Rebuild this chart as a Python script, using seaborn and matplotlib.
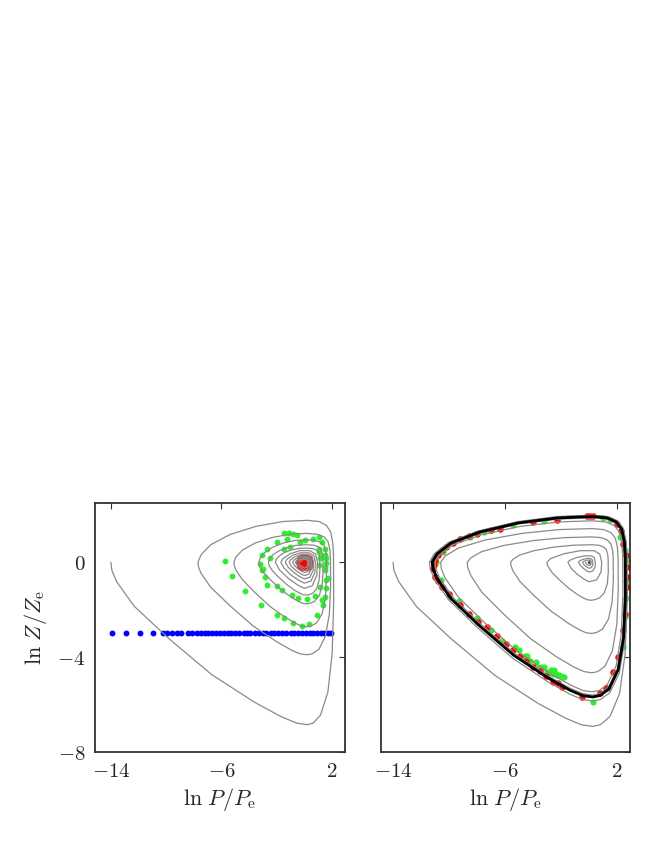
import numpy as np
import matplotlib
matplotlib.use("Agg")
import matplotlib.pyplot as plt
import seaborn as sns

# ------------------------------
# Data (ln P/Pe, ln Z/Ze)
# ------------------------------

# left panel: one gray trajectory spiralling into the stable point (0, 0), loop by loop
left_loops = [
    [(-14.0, 0.0), (-13.93, -0.34), (-13.58, -0.82), (-12.32, -1.85), (-9.8, -3.22), (-6.72, -4.73),
     (-3.64, -5.89), (-1.68, -6.51), (-0.56, -6.78), (0.21, -6.85), (0.64, -6.78), (1.17, -6.44),
     (1.7, -5.48), (2.01, -3.84), (2.12, -1.71), (2.11, 0.27), (2.06, 0.8), (1.91, 1.27),
     (1.59, 1.56), (1.06, 1.72), (0.21, 1.77), (-1.54, 1.72), (-3.47, 1.52), (-5.39, 1.17),
     (-6.78, 0.74), (-7.47, 0.32)],
    [(-7.7, 0.0), (-7.66, -0.2), (-7.47, -0.47), (-6.78, -1.05), (-5.39, -1.83), (-3.7, -2.69),
     (-2.0, -3.35), (-0.92, -3.71), (-0.31, -3.86), (0.19, -3.9), (0.57, -3.86), (1.05, -3.67),
     (1.52, -3.12), (1.81, -2.18), (1.9, -0.98), (1.89, 0.18), (1.84, 0.55), (1.71, 0.88),
     (1.43, 1.07), (0.95, 1.18), (0.19, 1.22), (-1.02, 1.18), (-2.3, 1.05), (-3.57, 0.81),
     (-4.49, 0.51), (-4.95, 0.22)],
    [(-5.1, 0.0), (-5.07, -0.14), (-4.95, -0.33), (-4.49, -0.73), (-3.57, -1.28), (-2.45, -1.88),
     (-1.33, -2.34), (-0.61, -2.58), (-0.2, -2.69), (0.16, -2.72), (0.48, -2.69), (0.88, -2.56),
     (1.28, -2.18), (1.52, -1.52), (1.6, -0.68), (1.59, 0.14), (1.55, 0.43), (1.44, 0.68),
     (1.2, 0.84), (0.8, 0.92), (0.16, 0.95), (-0.66, 0.92), (-1.49, 0.82), (-2.31, 0.63),
     (-2.9, 0.4), (-3.2, 0.17)],
    [(-3.3, 0.0), (-3.28, -0.09), (-3.2, -0.21), (-2.9, -0.47), (-2.31, -0.82), (-1.58, -1.21),
     (-0.86, -1.51), (-0.4, -1.66), (-0.13, -1.73), (0.14, -1.75), (0.41, -1.73), (0.74, -1.65),
     (1.08, -1.4), (1.28, -0.98), (1.35, -0.44), (1.34, 0.11), (1.31, 0.33), (1.22, 0.53),
     (1.01, 0.65), (0.68, 0.72), (0.14, 0.74), (-0.52, 0.72), (-1.17, 0.64), (-1.82, 0.49),
     (-2.29, 0.31), (-2.52, 0.13)],
    [(-2.6, 0.0), (-2.59, -0.07), (-2.52, -0.17), (-2.29, -0.37), (-1.82, -0.65), (-1.25, -0.95),
     (-0.68, -1.19), (-0.31, -1.31), (-0.1, -1.37), (0.11, -1.38), (0.34, -1.37), (0.62, -1.3),
     (0.9, -1.1), (1.06, -0.77), (1.12, -0.35), (1.11, 0.09), (1.09, 0.27), (1.01, 0.43),
     (0.84, 0.53), (0.56, 0.58), (0.11, 0.6), (-0.42, 0.58), (-0.95, 0.52), (-1.47, 0.4),
     (-1.85, 0.25), (-2.04, 0.11)],
    [(-2.1, 0.0), (-1.79, -0.33), (-1.16, -0.68), (-0.46, -0.97), (0.0, -1.1), (0.57, -0.99),
     (0.9, -0.55), (0.95, 0.0), (0.81, 0.35), (0.38, 0.49), (-0.34, 0.49), (-1.02, 0.36), (-1.56, 0.15)],
    [(-1.7, 0.0), (-1.45, -0.26), (-0.94, -0.55), (-0.37, -0.77), (0.0, -0.88), (0.48, -0.79),
     (0.76, -0.44), (0.8, 0.0), (0.68, 0.29), (0.32, 0.4), (-0.28, 0.4), (-0.83, 0.3), (-1.27, 0.12)],
    [(-1.38, 0.0), (-1.17, -0.21), (-0.76, -0.43), (-0.3, -0.62), (0.0, -0.7), (0.4, -0.63),
     (0.63, -0.35), (0.66, 0.0), (0.56, 0.24), (0.26, 0.33), (-0.22, 0.33), (-0.66, 0.24), (-1.01, 0.1)],
    [(-1.1, 0.0), (-0.94, -0.17), (-0.61, -0.35), (-0.24, -0.49), (0.0, -0.56), (0.32, -0.5),
     (0.51, -0.28), (0.54, 0.0), (0.46, 0.19), (0.22, 0.26), (-0.17, 0.26), (-0.51, 0.19), (-0.78, 0.08)],
    [(-0.85, 0.0), (-0.72, -0.13), (-0.47, -0.27), (-0.19, -0.38), (0.0, -0.43), (0.26, -0.39),
     (0.41, -0.22), (0.43, 0.0), (0.37, 0.15), (0.17, 0.2), (-0.13, 0.2), (-0.39, 0.15), (-0.6, 0.06)],
    [(-0.65, 0.0), (-0.55, -0.1), (-0.36, -0.2), (-0.14, -0.29), (0.0, -0.33), (0.2, -0.3),
     (0.31, -0.17), (0.33, 0.0), (0.28, 0.11), (0.13, 0.16), (-0.1, 0.16), (-0.29, 0.12), (-0.44, 0.05)],
    [(-0.48, 0.0), (-0.41, -0.07), (-0.26, -0.15), (-0.11, -0.21), (0.0, -0.24), (0.14, -0.22),
     (0.23, -0.12), (0.24, 0.0), (0.2, 0.08), (0.1, 0.12), (-0.06, 0.12), (-0.18, 0.09), (-0.28, 0.04),
     (-0.3, 0.0)],
]

# right panel: gray trajectory coming in from outside the limit cycle
right_outer_loops = [
    [(-14.0, 0.0), (-13.93, -0.35), (-13.58, -0.83), (-12.32, -1.87), (-9.8, -3.25), (-6.72, -4.77),
     (-3.64, -5.95), (-1.68, -6.57), (-0.56, -6.85), (0.27, -6.92), (0.82, -6.85), (1.5, -6.5),
     (2.18, -5.54), (2.58, -3.88), (2.72, -1.73), (2.71, 0.3), (2.64, 0.9), (2.45, 1.43),
     (2.04, 1.75), (1.36, 1.93), (0.27, 1.99), (-2.28, 1.93), (-5.13, 1.71), (-7.98, 1.31),
     (-10.03, 0.84), (-11.06, 0.36)],
    [(-11.4, 0.0), (-11.34, -0.29), (-11.06, -0.7), (-10.03, -1.58), (-7.98, -2.75), (-5.47, -4.04),
     (-2.96, -5.03), (-1.37, -5.56), (-0.46, -5.79), (0.27, -5.85), (0.81, -5.79), (1.49, -5.5),
     (2.16, -4.68), (2.57, -3.28), (2.7, -1.46), (2.69, 0.3), (2.62, 0.89), (2.43, 1.42),
     (2.03, 1.73), (1.35, 1.91), (0.27, 1.97), (-2.26, 1.91), (-5.09, 1.69), (-7.91, 1.3),
     (-9.94, 0.83), (-10.96, 0.35), (-11.3, 0.0)],
]

# right panel: gray trajectory spiralling out of the unstable point (0, 0)
right_inner_loops = [
    [(-0.25, 0.0), (-0.21, -0.04), (-0.14, -0.09), (-0.06, -0.12), (0.0, -0.14), (0.09, -0.13),
     (0.14, -0.07), (0.15, 0.0), (0.13, 0.06), (0.06, 0.09), (-0.09, 0.09), (-0.27, 0.06), (-0.41, 0.03)],
    [(-0.45, 0.0), (-0.38, -0.08), (-0.25, -0.16), (-0.1, -0.22), (0.0, -0.25), (0.16, -0.23),
     (0.26, -0.13), (0.27, 0.0), (0.23, 0.11), (0.11, 0.16), (-0.15, 0.16), (-0.45, 0.12), (-0.69, 0.05)],
    [(-0.75, 0.0), (-0.64, -0.12), (-0.41, -0.25), (-0.17, -0.36), (0.0, -0.41), (0.27, -0.37),
     (0.43, -0.21), (0.45, 0.0), (0.38, 0.2), (0.18, 0.27), (-0.3, 0.27), (-0.9, 0.2), (-1.38, 0.08)],
    [(-1.5, 0.0), (-1.28, -0.25), (-0.83, -0.51), (-0.33, -0.72), (0.0, -0.82), (0.55, -0.74),
     (0.86, -0.41), (0.91, 0.0), (0.77, 0.35), (0.36, 0.49), (-0.6, 0.49), (-1.8, 0.36), (-2.76, 0.15)],
    [(-3.0, 0.0), (-2.99, -0.08), (-2.91, -0.19), (-2.64, -0.43), (-2.1, -0.75), (-1.44, -1.1),
     (-0.78, -1.38), (-0.36, -1.52), (-0.12, -1.58), (0.14, -1.6), (0.41, -1.58), (0.76, -1.5),
     (1.1, -1.28), (1.31, -0.9), (1.38, -0.4), (1.37, 0.11), (1.34, 0.33), (1.24, 0.53),
     (1.04, 0.65), (0.69, 0.72), (0.14, 0.74), (-1.12, 0.72), (-2.52, 0.64), (-3.92, 0.49),
     (-4.93, 0.31), (-5.43, 0.13)],
    [(-5.6, 0.0), (-5.57, -0.15), (-5.43, -0.36), (-4.93, -0.81), (-3.92, -1.41), (-2.69, -2.07),
     (-1.46, -2.58), (-0.67, -2.85), (-0.22, -2.97), (0.17, -3.0), (0.52, -2.97), (0.96, -2.82),
     (1.39, -2.4), (1.65, -1.68), (1.74, -0.75), (1.73, 0.16), (1.69, 0.48), (1.57, 0.77),
     (1.31, 0.94), (0.87, 1.04), (0.17, 1.07), (-1.74, 1.04), (-3.92, 0.92), (-6.09, 0.71),
     (-7.66, 0.45), (-8.44, 0.19)],
    [(-8.7, 0.0), (-8.66, -0.23), (-8.44, -0.56), (-7.66, -1.26), (-6.09, -2.19), (-4.18, -3.22),
     (-2.26, -4.01), (-1.04, -4.43), (-0.35, -4.61), (0.21, -4.66), (0.63, -4.61), (1.15, -4.38),
     (1.67, -3.73), (1.99, -2.61), (2.09, -1.17), (2.08, 0.21), (2.03, 0.64), (1.88, 1.02),
     (1.57, 1.25), (1.05, 1.38), (0.21, 1.42), (-2.12, 1.38), (-4.77, 1.22), (-7.42, 0.94),
     (-9.33, 0.6), (-10.28, 0.26)],
    [(-10.6, 0.0), (-10.55, -0.27), (-10.28, -0.66), (-9.33, -1.47), (-7.42, -2.57), (-5.09, -3.77),
     (-2.76, -4.7), (-1.27, -5.19), (-0.42, -5.41), (0.24, -5.46), (0.73, -5.41), (1.33, -5.13),
     (1.94, -4.37), (2.3, -3.06), (2.42, -1.37), (2.41, 0.26), (2.35, 0.79), (2.18, 1.26),
     (1.82, 1.54), (1.21, 1.7), (0.24, 1.75), (-2.2, 1.7), (-4.95, 1.51), (-7.7, 1.16),
     (-9.68, 0.74), (-10.67, 0.32)],
    [(-11.0, 0.0), (-10.95, -0.28), (-10.67, -0.67), (-9.68, -1.51), (-7.7, -2.63), (-5.28, -3.86),
     (-2.86, -4.82), (-1.32, -5.32), (-0.44, -5.54), (0.26, -5.6), (0.77, -5.54), (1.4, -5.26),
     (2.04, -4.48), (2.42, -3.14), (2.55, -1.4), (2.54, 0.28), (2.47, 0.85), (2.3, 1.35),
     (1.91, 1.65), (1.28, 1.82), (0.26, 1.88), (-2.22, 1.82), (-5.0, 1.62), (-7.77, 1.24),
     (-9.77, 0.79), (-10.77, 0.34), (-11.1, 0.0)],
]

# right panel: limit cycle (black)
limit_cycle = [
    (-11.2, 0.0), (-11.14, -0.28), (-10.86, -0.68), (-9.86, -1.53), (-7.84, -2.67), (-5.38, -3.92),
    (-2.91, -4.88), (-1.34, -5.4), (-0.45, -5.62), (0.26, -5.68), (0.78, -5.62), (1.43, -5.34),
    (2.08, -4.54), (2.47, -3.18), (2.6, -1.42), (2.59, 0.29), (2.52, 0.87), (2.34, 1.39),
    (1.95, 1.7), (1.3, 1.87), (0.26, 1.93), (-2.24, 1.87), (-5.04, 1.66), (-7.84, 1.27),
    (-9.86, 0.81), (-10.86, 0.35), (-11.2, 0.0),
]

# left panel markers
blue_x = [-13.9, -12.9, -11.9, -10.95, -10.2, -9.95, -9.6, -9.25, -8.9, -8.4, -8.1, -7.8, -7.5,
          -7.2, -6.95, -6.7, -6.4, -6.1, -5.8, -5.5, -5.3, -5.0, -4.7, -4.4, -4.15, -3.9, -3.6,
          -3.3, -3.0, -2.75, -2.45, -2.2, -1.9, -1.6, -1.3, -1.0, -0.75, -0.45, -0.2, 0.1, 0.4,
          0.65, 0.9, 1.2, 1.45, 1.7, 1.95]
blue_y = [-3.0] * len(blue_x)

green_left = [
    (-5.74, 0.04), (-5.25, -0.56), (-4.29, -1.21), (-3.15, -1.79), (-2.0, -2.23), (-1.5, -2.37),
    (-0.79, -2.55), (-0.18, -2.69), (0.3, -2.6), (0.9, -2.23), (1.38, -1.81), (1.5, -1.46),
    (1.6, -1.1), (1.74, -0.68), (1.5, -0.34), (1.6, -0.05), (1.27, 0.22), (1.03, 0.43),
    (-2.72, -0.97), (-2.0, -1.0), (-1.63, -1.18), (-0.9, -1.39), (-0.43, -1.52), (0.18, -1.56),
    (0.78, -1.43), (1.14, -1.04), (-3.2, -0.06), (-3.08, -0.34), (-2.84, -0.62),
    (-3.08, 0.29), (-2.72, 0.58), (-2.0, 0.85), (-1.27, 1.0), (-0.55, 1.14), (0.06, 0.93),
    (1.03, 1.07), (1.27, 0.85), (1.5, 0.58), (1.6, 0.16), (1.5, -0.2),
    (-2.48, 0.16), (-1.51, 0.58), (-1.03, 0.65), (-0.33, 0.85), (1.03, 0.58), (1.14, 0.16),
    (1.03, -0.13), (-2.96, -0.27), (-1.5, 1.22), (-1.1, 1.22), (-0.8, 1.2), (0.6, 1.0),
    (1.5, 0.3), (1.55, -0.75), (1.25, -1.6),
]

red_left = [
    (0.0, 0.0), (0.17, 0.09), (-0.17, 0.09), (0.17, -0.09), (-0.17, -0.09), (0.0, 0.17), (0.0, -0.17),
    (0.34, 0.0), (-0.34, 0.0), (0.24, 0.14), (-0.24, 0.14), (0.24, -0.14), (-0.24, -0.14),
]

# right panel markers on the limit cycle
red_right = [
    (-0.14, 1.94), (0.3, 1.94), (0.1, 1.95), (-2.3, 1.8), (-4.0, 1.69), (-6.36, 1.42), (-7.0, 1.35),
    (-8.0, 1.2), (-8.6, 1.1), (-9.2, 0.98), (-9.7, 0.82), (-10.2, 0.65), (-10.5, 0.5), (-10.8, 0.3),
    (-11.0, 0.1), (-11.1, -0.13), (-11.15, -0.3), (-11.0, -0.62), (-10.8, -0.8), (-10.5, -1.04),
    (-10.0, -1.35), (-9.2, -1.81), (-8.6, -2.2), (-7.9, -2.5), (-7.3, -2.72), (-6.6, -3.1),
    (-5.9, -3.45), (-5.4, -3.7), (-4.9, -3.95), (-4.5, -4.15), (-3.98, -4.4), (-3.5, -4.6),
    (-3.1, -4.8), (-2.55, -5.04), (-2.2, -5.1), (-1.9, -5.25), (-0.52, -5.7), (0.79, -5.53),
    (1.2, -5.3), (1.74, -4.62), (2.1, -4.0), (2.45, -2.86), (2.55, -2.2), (2.7, -1.04),
    (2.68, -0.6), (2.7, -0.2), (2.62, 0.3), (2.45, 0.79), (2.0, 1.63), (2.3, 1.3),
]

green_right = [
    (1.02, 1.88), (1.5, 1.8), (-3.2, 1.75), (-5.4, 1.56), (-7.5, 1.28), (-8.5, 1.07), (-10.4, 0.43),
    (-10.9, 0.0), (-10.6, -0.75), (-9.93, -1.46), (-9.3, -1.65), (-8.0, -2.37), (-7.0, -2.85),
    (-6.2, -3.3), (-5.3, -3.57), (-5.0, -3.7), (-4.6, -3.95), (-4.4, -3.95), (-4.2, -4.15),
    (-3.8, -4.2), (-3.6, -4.45), (-3.4, -4.4), (-3.2, -4.4), (-3.02, -4.62), (-2.8, -4.65),
    (-2.7, -4.55), (-2.6, -4.7), (-2.5, -4.55), (-2.4, -4.65), (-2.3, -4.76), (-2.15, -4.75),
    (-2.0, -4.8), (-1.8, -4.85), (0.31, -5.88), (1.38, -5.32), (2.45, -3.57), (2.57, -2.3),
    (2.65, -1.5), (2.62, -0.8), (2.7, 0.08), (2.55, 0.5), (2.2, 1.08),
]

x_ticks = [-14, -6, 2]
x_ticklabels = [r'$-14$', r'$-6$', r'$2$']
y_ticks = [0, -4, -8]
y_ticklabels = [r'$0$', r'$-4$', r'$-8$']

# ------------------------------
# Styling
# ------------------------------
sns.set_style("white")
plt.rcParams['mathtext.fontset'] = 'cm'
plt.rcParams['font.family'] = ['DejaVu Serif']

gray = '#8a8a8a'
blue = '#0000ff'
green = '#2cf02c'
red = '#ff0000'


def draw_path(ax, loops, color, lw):
    pts = np.array([p for loop in loops for p in loop])
    sns.lineplot(x=pts[:, 0], y=pts[:, 1], sort=False, estimator=None,
                 color=color, linewidth=lw, legend=False, ax=ax)


def draw_dots(ax, xs, ys, color, size):
    sns.scatterplot(x=xs, y=ys, color=color, s=size, linewidth=0, legend=False, ax=ax)


def style_axes(ax, xlim, show_ylabels):
    ax.set_xlim(*xlim)
    ax.set_ylim(-8, 2.5)
    ax.set_xticks(x_ticks)
    ax.set_xticklabels(x_ticklabels)
    ax.set_yticks(y_ticks)
    ax.set_yticklabels(y_ticklabels if show_ylabels else [])
    ax.tick_params(direction='in', top=True, right=True, length=4, width=0.8,
                   labelsize=15, pad=7, color='#333333')
    for sp in ax.spines.values():
        sp.set_color('#333333')
        sp.set_linewidth(1.3)
    ax.set_xlabel(r'$\ln\,P/P_{\rm e}$', fontsize=16, labelpad=4)


fig = plt.figure(figsize=(6.54, 8.46), dpi=100)
ax1 = fig.add_axes([95 / 654, 94 / 846, 250 / 654, 249 / 846])
ax2 = fig.add_axes([381 / 654, 94 / 846, 249 / 654, 249 / 846])

# left panel
draw_path(ax1, left_loops, gray, 0.9)
draw_dots(ax1, blue_x, blue_y, blue, 18)
draw_dots(ax1, [p[0] for p in green_left], [p[1] for p in green_left], green, 18)
draw_dots(ax1, [p[0] for p in red_left], [p[1] for p in red_left], red, 40)
style_axes(ax1, (-15.15, 2.94), True)
ax1.set_ylabel(r'$\ln\,Z/Z_{\rm e}$', fontsize=16, labelpad=6)

# right panel
draw_path(ax2, right_outer_loops, gray, 0.9)
draw_path(ax2, right_inner_loops, gray, 0.9)
draw_path(ax2, [limit_cycle], 'black', 2.0)
draw_dots(ax2, [0.0], [0.0], '#555555', 6)
draw_dots(ax2, [p[0] for p in green_right], [p[1] for p in green_right], green, 20)
draw_dots(ax2, [p[0] for p in red_right], [p[1] for p in red_right], red, 22)
style_axes(ax2, (-14.86, 2.93), False)

fig.savefig('out.png', dpi=100)
